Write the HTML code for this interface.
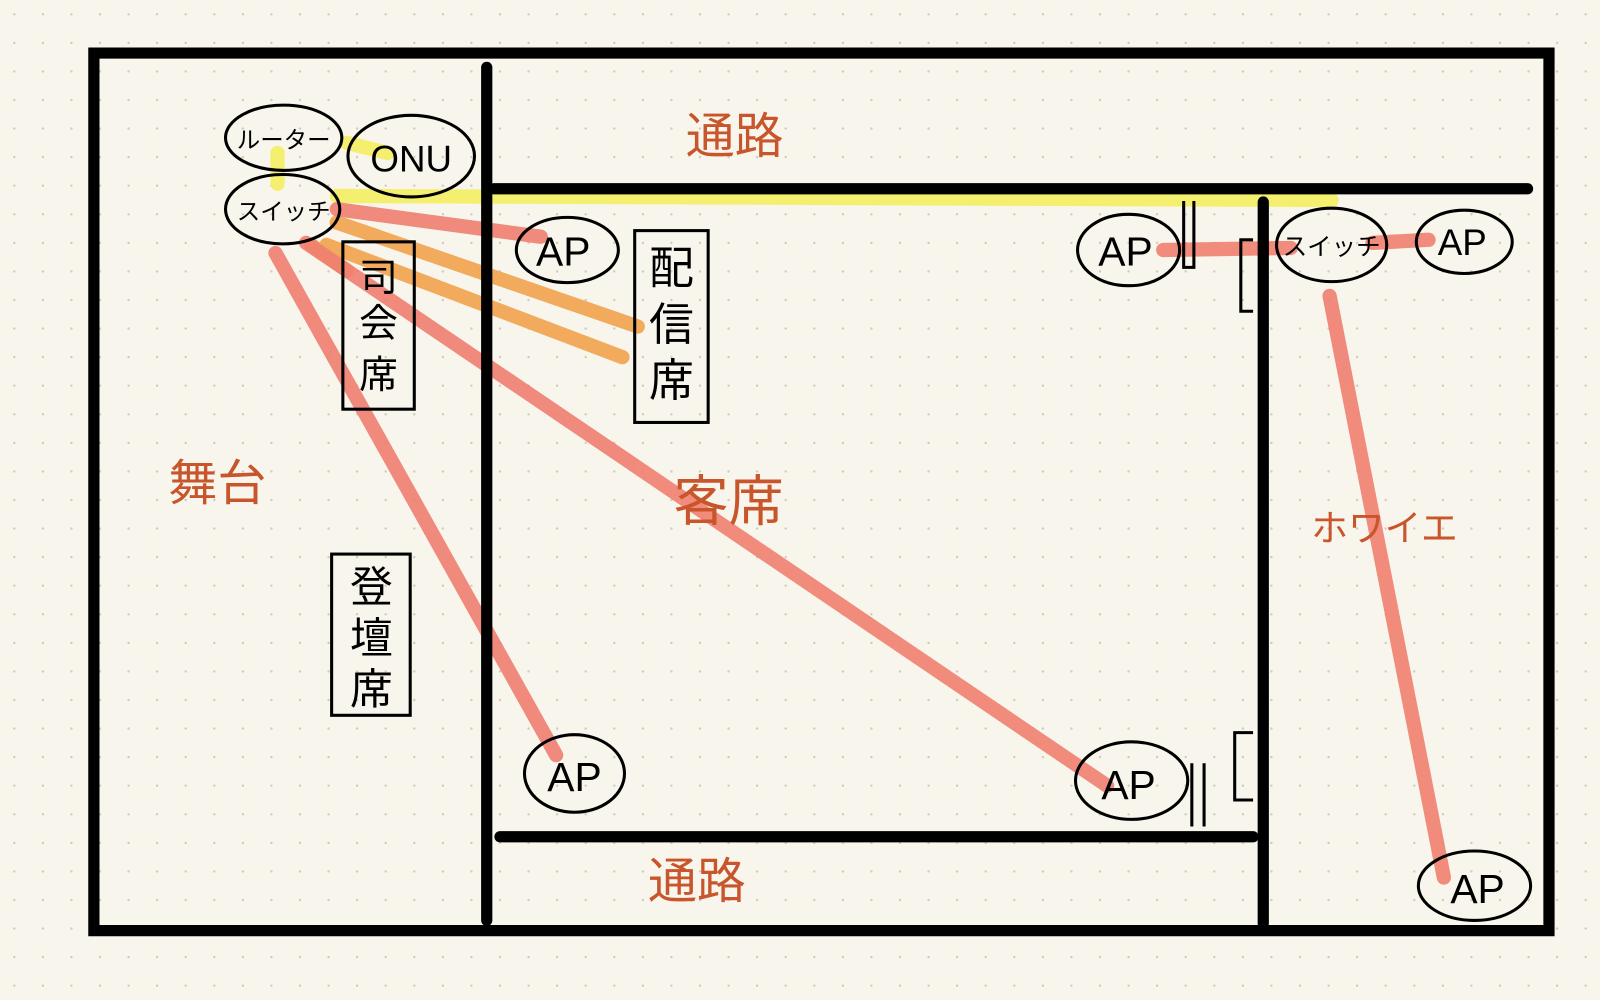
<!DOCTYPE html>
<html><head><meta charset="utf-8"><style>
html,body{margin:0;padding:0;background:#f8f6ec;}
svg{display:block}
text{font-family:"Liberation Sans","Noto Sans CJK JP",sans-serif;}
</style></head><body>
<svg width="1600" height="1000" viewBox="0 0 1568 980" preserveAspectRatio="none" xmlns="http://www.w3.org/2000/svg">
<defs><pattern id="d" width="28" height="28" patternUnits="userSpaceOnUse"><circle cx="14" cy="14" r="1.2" fill="#cfcabb"/></pattern></defs>
<rect width="1568" height="980" fill="#f8f6ec"/>
<rect width="1568" height="980" fill="url(#d)"/>
<g stroke-linecap="round" fill="none">
<path d="M340 140 L380 150 M272 150 L272 180 M330 192 L1305 196" stroke="#f3ee62" stroke-width="14" opacity="0.9"/>
<path d="M330 218 L625 320 M320 240 L610 350 M305 240 L340 265" stroke="#f2aa5c" stroke-width="14"/>
<g stroke="#ef7f70" stroke-width="14" opacity="0.9">
<path d="M330 205 L530 232"/>
<path d="M300 238 L1085 770"/>
<path d="M270 248 L545 740"/>
<path d="M1140 245 L1265 243 M1345 238 L1400 235"/>
<path d="M1303 290 L1415 860"/>
</g>
</g>
<g stroke="#000" stroke-width="11" stroke-linecap="round" fill="none">
<path d="M92 52 L1518 52 L1518 912 L92 912 Z"/>
<path d="M477 66 L477 902"/>
<path d="M484 185 L1497 185"/>
<path d="M1238 198 L1238 905"/>
<path d="M490 820 L1228 820"/>
</g>
<g stroke="#000" stroke-width="3" fill="none">
<path d="M1160 197 L1160 262 L1170 262 L1170 197"/>
<path d="M1228 235 L1216 235 L1216 305 L1228 305"/>
<path d="M1228 718 L1210 718 L1210 784 L1228 784"/>
<path d="M1168 748 L1168 810 M1180 748 L1180 810"/>
<rect x="336" y="237" width="70" height="164"/>
<rect x="622" y="226" width="72" height="188"/>
<rect x="325" y="543" width="77" height="158"/>
<ellipse cx="278" cy="135" rx="57" ry="32"/>
<ellipse cx="403" cy="153" rx="62" ry="40"/>
<ellipse cx="277" cy="205" rx="56" ry="34"/>
<ellipse cx="556" cy="245" rx="50" ry="32"/>
<ellipse cx="1106" cy="245" rx="50" ry="35"/>
<ellipse cx="1305" cy="240" rx="54" ry="36"/>
<ellipse cx="1435" cy="237" rx="47" ry="31"/>
<ellipse cx="563" cy="758" rx="49" ry="38"/>
<ellipse cx="1109" cy="765" rx="55" ry="38"/>
<ellipse cx="1445" cy="868" rx="55" ry="34"/>
</g>
<g fill="#000" font-size="30" text-anchor="middle">
<text x="278" y="145" font-size="23">ルーター</text>
<text x="403" y="168" font-size="36">ONU</text>
<text x="278" y="215" font-size="23">スイッチ</text>
<text x="552" y="260" font-size="40">AP</text>
<text x="1103" y="260" font-size="40">AP</text>
<text x="1305" y="250" font-size="24">スイッチ</text>
<text x="1433" y="250" font-size="36">AP</text>
<text x="563" y="775" font-size="40">AP</text>
<text x="1106" y="783" font-size="40">AP</text>
<text x="1448" y="885" font-size="40">AP</text>
<text x="371" y="285" font-size="38">司</text>
<text x="371" y="330" font-size="38">会</text>
<text x="371" y="380" font-size="38">席</text>
<text x="658" y="278" font-size="44">配</text>
<text x="658" y="333" font-size="44">信</text>
<text x="658" y="388" font-size="44">席</text>
<text x="364" y="590" font-size="42">登</text>
<text x="364" y="640" font-size="42">壇</text>
<text x="364" y="690" font-size="42">席</text>
</g>
<g fill="#c8552b" font-size="48">
<text x="672" y="150">通路</text>
<text x="635" y="880">通路</text>
<text x="165" y="490">舞台</text>
<text x="660" y="510" font-size="54">客席</text>
<text x="1285" y="530" font-size="36">ホワイエ</text>
</g>
</svg>
</body></html>
